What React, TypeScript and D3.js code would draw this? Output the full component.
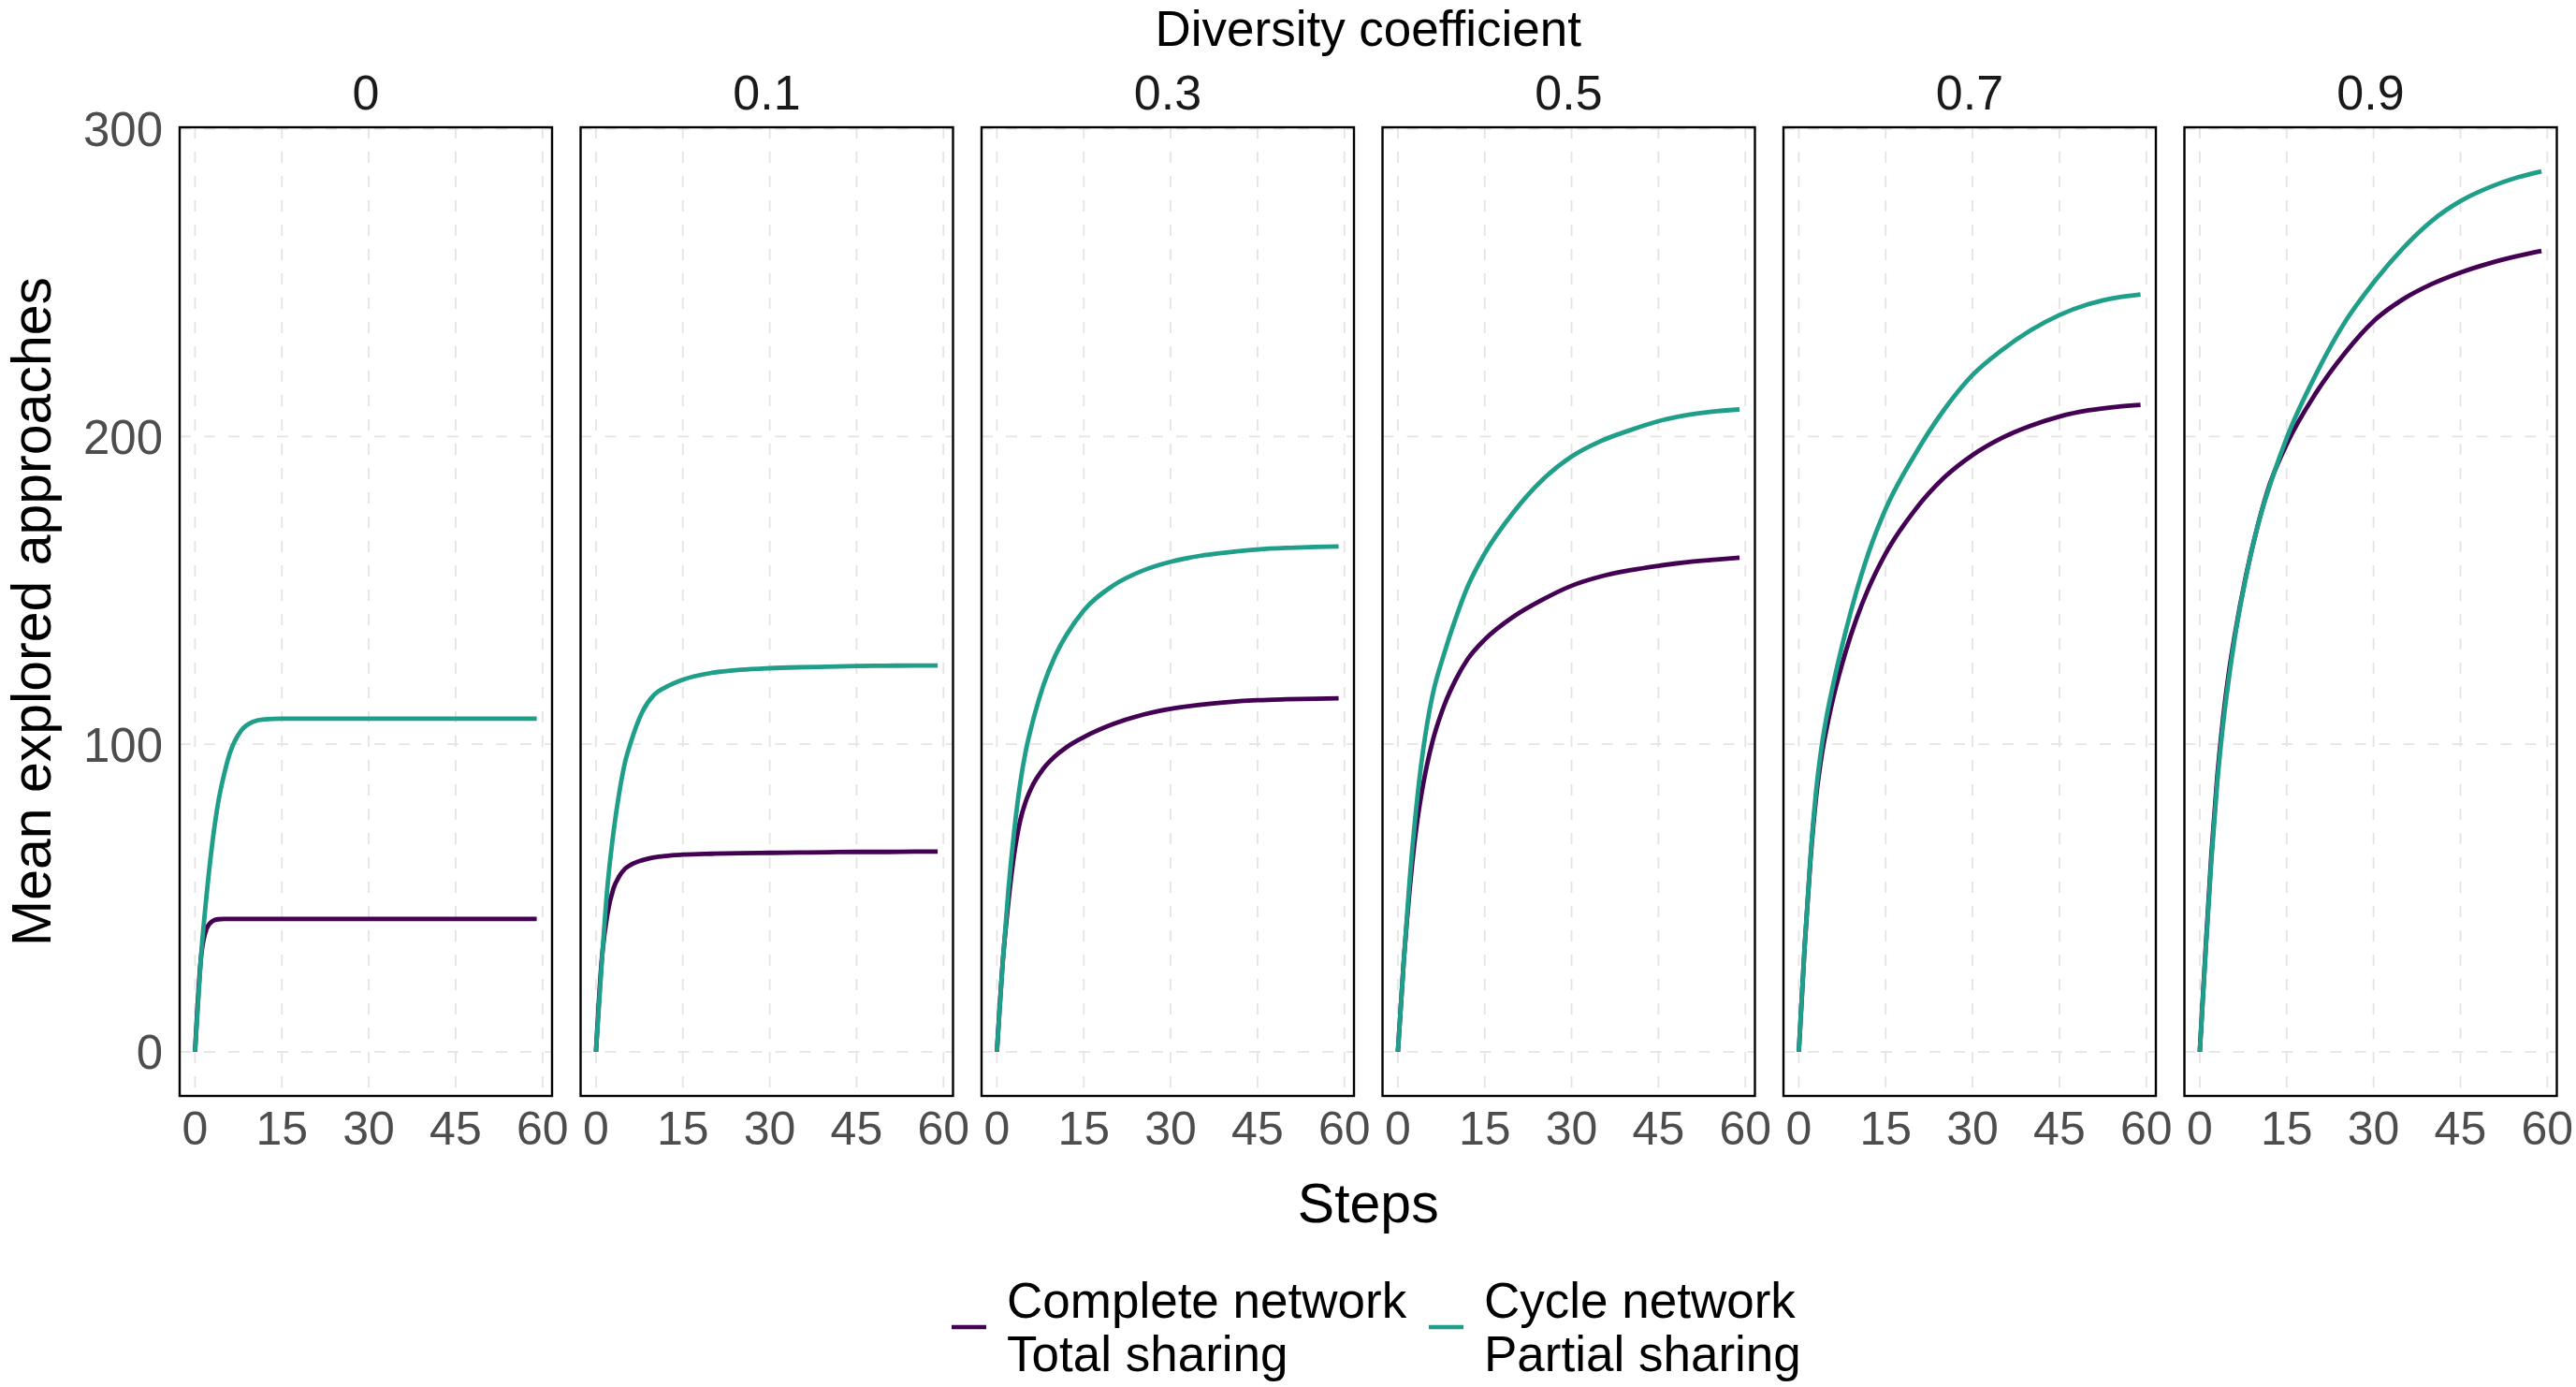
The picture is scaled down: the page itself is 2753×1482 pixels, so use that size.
import * as d3 from 'd3'
import React from 'react'

// steps at which the mean number of explored approaches was read
const steps = [0, 1, 2, 3, 4, 5, 6, 8, 10, 12, 15, 20, 25, 30, 35, 40, 45, 50, 55, 59]
const coefficients = ['0', '0.1', '0.3', '0.5', '0.7', '0.9']

// Complete network / total sharing, one array per diversity coefficient
const complete00 = [0, 30, 40, 42.5, 43.1, 43.2, 43.2, 43.2, 43.2, 43.2, 43.2, 43.2, 43.2, 43.2, 43.2, 43.2, 43.2, 43.2, 43.2, 43.2]
const complete01 = [0, 30, 45, 53, 57, 59.5, 60.8, 62.3, 63.2, 63.7, 64.1, 64.4, 64.6, 64.7, 64.8, 64.9, 65, 65, 65.1, 65.1]
const complete03 = [0, 29, 49, 64.5, 75, 81.5, 86, 92, 96, 99, 102.3, 106.5, 109.5, 111.5, 112.8, 113.7, 114.3, 114.6, 114.8, 114.9]
const complete05 = [0, 29, 52, 70, 83, 93, 101, 112.6, 121, 127.5, 134, 141.5, 147, 151.5, 154.5, 156.5, 158, 159.2, 160, 160.6]
const complete07 = [0, 34, 62, 83, 97, 107, 115.5, 129.5, 141, 150.5, 162, 176, 186.5, 194, 199.5, 203.5, 206.5, 208.5, 209.7, 210.3]
const complete09 = [0, 33, 64, 89, 108, 123, 135, 155, 171, 184, 197.5, 214, 227, 237.5, 244.5, 249.5, 253.3, 256.3, 258.7, 260.3]

// Cycle network / partial sharing
const cycle00 = [0, 30, 51, 68, 81, 90, 97, 104.5, 107.3, 108.1, 108.3, 108.3, 108.3, 108.3, 108.3, 108.3, 108.3, 108.3, 108.3, 108.3]
const cycle01 = [0, 29, 54, 71, 84, 94, 100.5, 110.5, 116, 118.5, 121, 123.2, 124.2, 124.7, 125, 125.2, 125.4, 125.5, 125.6, 125.6]
const cycle03 = [0, 29, 53, 72, 87, 98, 106, 119, 128.5, 135.5, 143.5, 151.5, 156.3, 159.3, 161.2, 162.4, 163.3, 163.8, 164.1, 164.3]
const cycle05 = [0, 29, 55, 76, 93, 106, 116, 129.5, 141, 151, 162, 175.5, 186, 193.5, 198.5, 202, 205, 207, 208.2, 208.8]
const cycle07 = [0, 34, 63, 85, 100, 111, 120, 136, 150, 162, 176.5, 194, 208.5, 220, 228, 234.5, 239.5, 243, 245.2, 246.2]
const cycle09 = [0, 32, 62, 87, 106, 121, 134, 154.5, 171, 183.5, 199.5, 220, 237, 250, 261, 270, 276.5, 281, 284.3, 286.2]

const completeSeries = [complete00, complete01, complete03, complete05, complete07, complete09]
const cycleSeries = [cycle00, cycle01, cycle03, cycle05, cycle07, cycle09]

const xTicks = [0, 15, 30, 45, 60]
const yTicks = [0, 100, 200, 300]
const legendLabels = [['Complete network', 'Total sharing'], ['Cycle network', 'Partial sharing']]
const colors = ['#440154', '#1F9E89']

const W = 2753
const H = 1482
const FONT = "'Liberation Sans', Arial, Helvetica, sans-serif"

export default function App() {
  const
    top = 136,
    bottom = 1171,
    panels = d3.scaleBand<string>().domain(coefficients).range([192, 2732.5]).paddingInner(0.0712),
    bw = panels.bandwidth(),
    x = d3.scaleLinear().domain([-2.65, 61.65]).range([0, bw]),
    yMax = d3.max([...completeSeries, ...cycleSeries].flat())!,
    y = d3.scaleLinear().domain([-yMax * 0.05, yMax * 1.05]).range([bottom, top]),
    line = d3.line<number>().x((_, i) => x(steps[i])).y(d => y(d)).curve(d3.curveMonotoneX),
    midX = (192 + 2732.5) / 2

  return (
    <svg width={W} height={H} style={{ position: 'absolute', left: 0, top: 0, background: '#fff' }} fontFamily={FONT}>
      <rect width={W} height={H} fill='#fff' />
      <text x={midX} y={49} textAnchor='middle' fontSize={53} fill='#000'>Diversity coefficient</text>

      {coefficients.map((c, pi) => {
        const left = panels(c)!
        return (
          <g key={c} transform={`translate(${left},0)`}>
            <text x={bw / 2} y={117} textAnchor='middle' fontSize={52} fill='#1A1A1A'>{c}</text>
            {xTicks.map(t => (
              <line key={'gx' + t} x1={x(t)} x2={x(t)} y1={top} y2={bottom}
                stroke='#E4E4E4' strokeWidth={1.8} strokeDasharray='12,14' />
            ))}
            {yTicks.map(t => (
              <line key={'gy' + t} x1={0} x2={bw} y1={y(t)} y2={y(t)}
                stroke='#E4E4E4' strokeWidth={1.8} strokeDasharray='12,14' />
            ))}
            <path d={line(completeSeries[pi])!} fill='none' stroke={colors[0]} strokeWidth={4.8} />
            <path d={line(cycleSeries[pi])!} fill='none' stroke={colors[1]} strokeWidth={4.8} />
            <rect x={0} y={top} width={bw} height={bottom - top} fill='none' stroke='#000' strokeWidth={2.4} />
            {xTicks.map(t => (
              <text key={'tx' + t} x={x(t)} y={1223} textAnchor='middle' fontSize={50} fill='#4D4D4D'>{t}</text>
            ))}
          </g>
        )
      })}

      {yTicks.map(t => (
        <text key={'ty' + t} x={174} y={y(t)} dy='0.36em' textAnchor='end' fontSize={51} fill='#4D4D4D'>{t}</text>
      ))}

      <text transform={`translate(54,${(top + bottom) / 2}) rotate(-90)`} textAnchor='middle' fontSize={59} fill='#000'>
        Mean explored approaches
      </text>
      <text x={midX} y={1306} textAnchor='middle' fontSize={59} fill='#000'>Steps</text>

      {legendLabels.map((lab, i) => {
        const kx = i === 0 ? 1017 : 1527
        return (
          <g key={lab[0]}>
            <line x1={kx} x2={kx + 37} y1={1418} y2={1418} stroke={colors[i]} strokeWidth={4.5} />
            <text x={kx + 59} y={1408} fontSize={53} fill='#000'>{lab[0]}</text>
            <text x={kx + 59} y={1465} fontSize={53} fill='#000'>{lab[1]}</text>
          </g>
        )
      })}
    </svg>
  )
}
